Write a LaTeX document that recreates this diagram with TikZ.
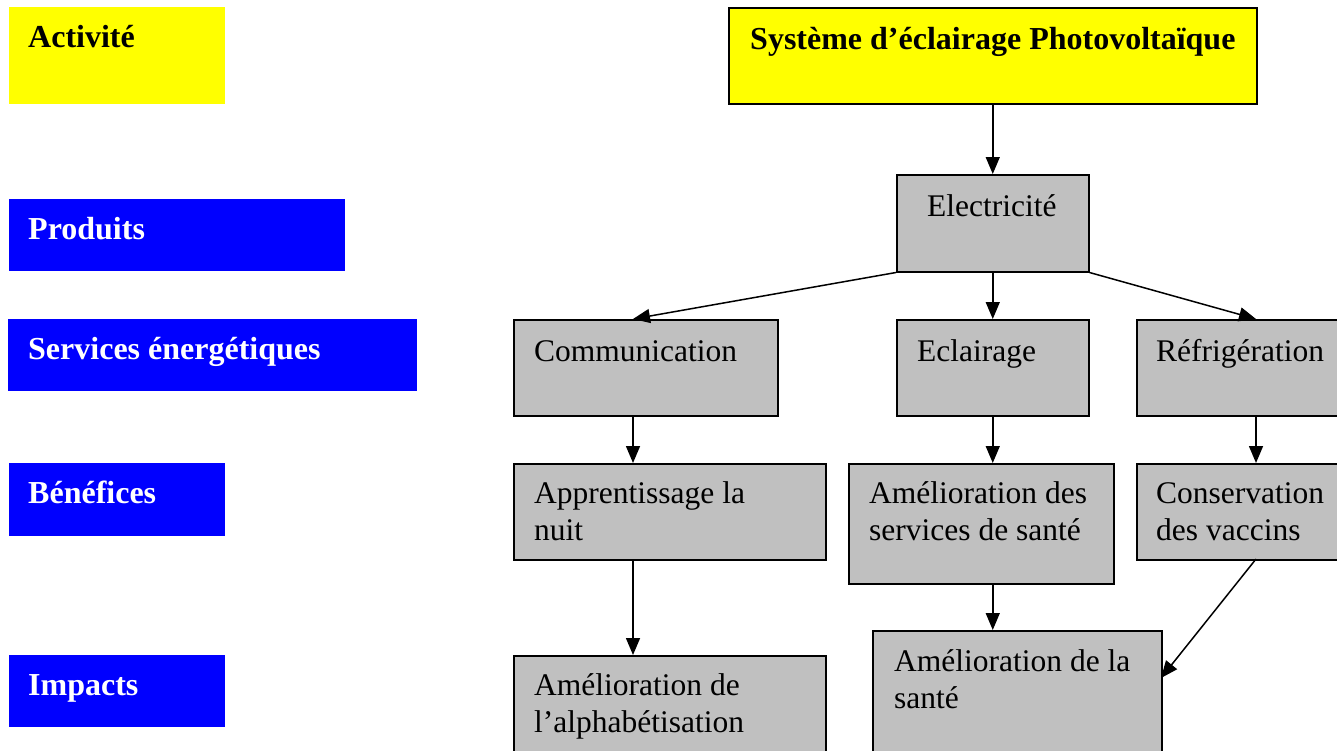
\documentclass[tikz,border=0pt]{standalone}
\usepackage{fontspec}
\setmainfont{Liberation Serif}
\usetikzlibrary{arrows.meta}
\definecolor{boxgray}{HTML}{C0C0C0}
\definecolor{lblue}{HTML}{0000FF}
\definecolor{lyellow}{HTML}{FFFF00}
\begin{document}
\begin{tikzpicture}[x=1pt,y=-1pt,
  gbox/.style={draw=black, line width=1.5pt, fill=boxgray, inner sep=0pt, anchor=north west},
  ybox/.style={draw=black, line width=1.5pt, fill=lyellow, inner sep=0pt, anchor=north west},
  catbox/.style={fill=lblue, inner sep=0pt, anchor=north west},
  catyel/.style={fill=lyellow, inner sep=0pt, anchor=north west},
  txt/.style={inner sep=0pt, anchor=base west, align=left, font=\fontsize{31.5}{37}\selectfont},
  btxt/.style={txt, font=\fontsize{32}{37}\selectfont\bfseries},
  arr/.style={line width=1.5pt, -{Triangle[length=17pt, width=14pt]}}]
\useasboundingbox (0,0) rectangle (1337,750);
\fill[white] (0,0) rectangle (1337,750);
% left category boxes
\node[catyel, minimum width=216pt, minimum height=97pt] (cA) at (9,7) {};
\node[btxt] (cAt) at (28,47) {Activité};
\node[catbox, minimum width=336pt, minimum height=72pt] (cP) at (9,199) {};
\node[btxt, text=white] (cPt) at (28,239) {Produits};
\node[catbox, minimum width=409pt, minimum height=72pt] (cS) at (8,319) {};
\node[btxt, text=white] (cSt) at (28,359) {Services énergétiques};
\node[catbox, minimum width=216pt, minimum height=73pt] (cB) at (9,463) {};
\node[btxt, text=white] (cBt) at (28,503) {Bénéfices};
\node[catbox, minimum width=216pt, minimum height=72pt] (cI) at (9,655) {};
\node[btxt, text=white] (cIt) at (28,695) {Impacts};
% diagram boxes
\node[ybox, minimum width=528pt, minimum height=96pt] (sys) at (728,7) {};
\node[btxt] (syst) at (750,49) {Système d’éclairage Photovoltaïque};
\node[gbox, minimum width=192pt, minimum height=97pt] (elec) at (896,174) {};
\node[txt] (elect) at (927,216) {Electricité};
\node[gbox, minimum width=264pt, minimum height=96pt] (comm) at (513,319) {};
\node[txt] (commt) at (534,361) {Communication};
\node[gbox, minimum width=192pt, minimum height=96pt] (ecl) at (896,319) {};
\node[txt] (eclt) at (917,361) {Eclairage};
\node[gbox, minimum width=240pt, minimum height=96pt] (ref) at (1136,319) {};
\node[txt] (reft) at (1156,361) {Réfrigération};
\node[gbox, minimum width=312pt, minimum height=96pt] (app) at (513,463) {};
\node[txt] (appt) at (534,540) {Apprentissage la\\nuit};
\node[gbox, minimum width=265pt, minimum height=120pt] (ams) at (848,463) {};
\node[txt] (amst) at (869,540) {Amélioration des\\services de santé};
\node[gbox, minimum width=240pt, minimum height=96pt] (cons) at (1136,463) {};
\node[txt] (const) at (1156,540) {Conservation\\des vaccins};
\node[gbox, minimum width=312pt, minimum height=130pt] (alph) at (513,655) {};
\node[txt] (alpht) at (534,732) {Amélioration de\\l’alphabétisation};
\node[gbox, minimum width=289pt, minimum height=150pt] (sante) at (872,630) {};
\node[txt] (santet) at (894,708) {Amélioration de la\\santé};
% connectors
\coordinate (commin) at (633,319);
\coordinate (refin) at (1256,319);
\coordinate (santein) at (1161,678);
\coordinate (consout) at (1256,559);
\draw[arr] (sys.south) -- (elec.north);
\draw[arr] (elec.south west) -- (commin);
\draw[arr] (elec.south) -- (ecl.north);
\draw[arr] (elec.south east) -- (refin);
\draw[arr] (comm.south -| commin) -- (app.north -| commin);
\draw[arr] (ecl.south) -- (ecl.south |- ams.north);
\draw[arr] (ref.south -| refin) -- (cons.north -| refin);
\draw[arr] (app.south -| commin) -- (alph.north -| commin);
\draw[arr] (ams.south -| ecl.south) -- (sante.north -| ecl.south);
\draw[arr] (consout) -- (santein);
\end{tikzpicture}
\end{document}
